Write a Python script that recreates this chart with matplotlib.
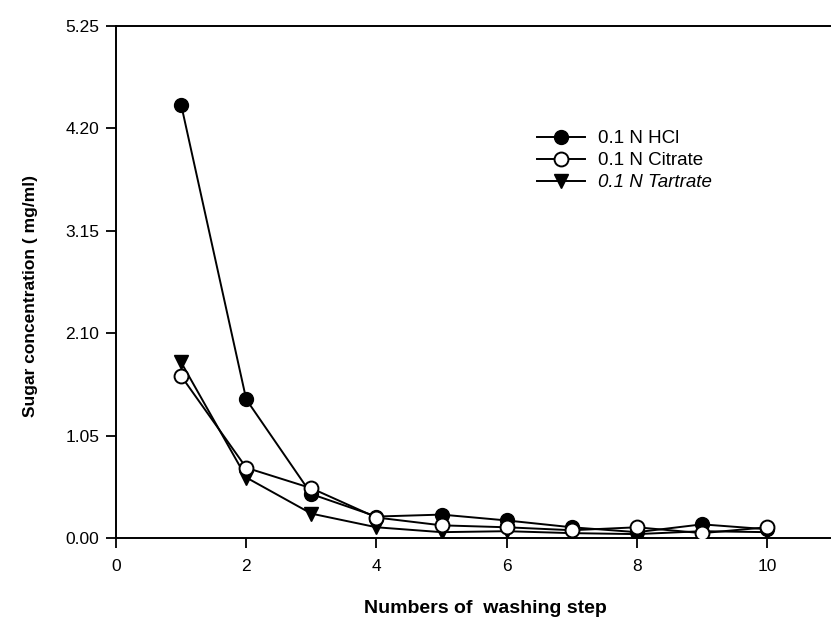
import numpy as np
import matplotlib
matplotlib.use('Agg')
import matplotlib.pyplot as plt

plt.rcParams['font.family'] = ['Liberation Sans', 'DejaVu Sans']

# washing steps and sugar concentration (mg/ml)
steps = [1, 2, 3, 4, 5, 6, 7, 8, 9, 10]
hcl = [4.44, 1.42, 0.45, 0.22, 0.24, 0.18, 0.11, 0.06, 0.14, 0.09]
citrate = [1.66, 0.72, 0.51, 0.21, 0.13, 0.11, 0.08, 0.11, 0.05, 0.11]
tartrate = [1.80, 0.62, 0.25, 0.11, 0.06, 0.07, 0.05, 0.04, 0.07, 0.06]
labels = ['0.1 N HCl', '0.1 N Citrate', '0.1 N Tartrate']
y_ticks = [0.00, 1.05, 2.10, 3.15, 4.20, 5.25]
x_ticks = [0, 2, 4, 6, 8, 10]

fig = plt.figure(figsize=(8.31, 6.23), dpi=100)
ax = fig.add_axes([0.1396, 0.1364, 0.8604, 0.8226])

ax.plot(steps, hcl, color='black', lw=1.4, marker='o', ms=10,
        mfc='black', mec='black', label=labels[0], zorder=3)
ax.plot(steps, citrate, color='black', lw=1.4, marker='o', ms=10,
        mfc='white', mec='black', mew=1.4, label=labels[1], zorder=4)
ax.plot(steps, tartrate, color='black', lw=1.4, marker='v', ms=10,
        mfc='black', mec='black', label=labels[2], zorder=2)

ax.set_xlim(0, 10.98)
ax.set_ylim(0, 5.25)
ax.set_xticks(x_ticks)
ax.set_yticks(y_ticks)
ax.set_yticklabels(['%.2f' % v for v in y_ticks])
ax.tick_params(direction='out', length=7, width=1.3, labelsize=12.5)
ax.tick_params(axis='x', pad=8)
ax.tick_params(axis='y', pad=5)
ax.spines['right'].set_visible(False)
for s in ['left', 'top', 'bottom']:
    ax.spines[s].set_linewidth(1.4)

ax.set_xlabel('Numbers of  washing step', fontsize=14, fontweight='bold', va='center')
ax.xaxis.set_label_coords((485 - 116) / 715, (538 - 608) / 512.5)
ax.set_ylabel('Sugar concentration ( mg/ml)', fontsize=12.5, fontweight='bold', va='center')
ax.yaxis.set_label_coords((30 - 116) / 715, (538 - 296) / 512.5)

leg = ax.legend(loc='upper left', bbox_to_anchor=(537 / 831, 1 - 130 / 623),
                bbox_transform=fig.transFigure, frameon=False, borderpad=0,
                borderaxespad=0, fontsize=13.5, handlelength=2.55,
                handletextpad=0.7, labelspacing=0.26)
leg.get_texts()[2].set_style('italic')

fig.savefig('out.png', dpi=100)
